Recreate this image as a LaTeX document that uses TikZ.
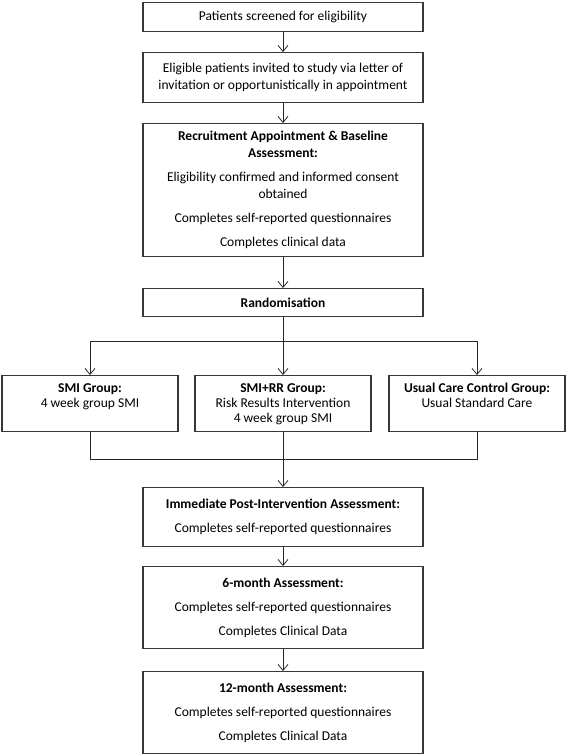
\documentclass[tikz,border=0pt]{standalone}
\usepackage{fontspec}
\setmainfont{Carlito}
\usetikzlibrary{arrows.meta}

\begin{document}
\begin{tikzpicture}[x=1pt,y=-1pt]
	\tikzstyle{comp} = [
		rectangle, draw=black!78, line width=1.1pt, align=center,
		font=\fontsize{13.5}{17}\selectfont
	]
	\tikzstyle{stage} = [
		comp, minimum width=280pt, anchor=north
	]
	\tikzstyle{group} = [
		comp, minimum width=176pt, minimum height=56pt, anchor=north
	]
	\tikzstyle{caption} = [
		below, align=center, inner sep=0pt, font=\fontsize{13.5}{15}\selectfont
	]
	\tikzstyle{conn} = [
		-{Straight Barb[length=6pt, width=10pt]}, line width=0.8pt, black!85
	]

	\useasboundingbox (0,0) rectangle (567,756);

	% Screening
	\node (Screen) [stage, minimum height=29pt] at (283,2) {Patients screened for eligibility};

	% Invitation
	\node (Invite) [stage, minimum height=50pt] at (283,52) {Eligible patients invited to study via letter of\\invitation or opportunistically in appointment};

	% Baseline
	\node (Baseline) [stage, minimum height=133pt] at (283,123) {\textbf{Recruitment Appointment \& Baseline}\\\textbf{Assessment:}\\[7pt]
		Eligibility confirmed and informed consent\\obtained\\[7pt]
		Completes self-reported questionnaires\\[7pt]
		Completes clinical data};

	% Randomisation
	\node (Random) [stage, minimum height=28pt] at (283,288) {\textbf{Randomisation}};
	\coordinate (Random_split) at (283,341);

	% Groups
	\node (SMI) [group] at (90,375) {}
		node [caption, yshift=-8pt] (SMI_text) at (SMI.north) {\textbf{SMI Group:}\\4 week group SMI}
	;
	\node (SMIRR) [group] at (283,375) {}
		node [caption, yshift=-8pt] (SMIRR_text) at (SMIRR.north) {\textbf{SMI+RR Group:}\\Risk Results Intervention\\4 week group SMI}
	;
	\node (Usual) [group] at (477,375) {}
		node [caption, yshift=-8pt] (Usual_text) at (Usual.north) {\textbf{Usual Care Control Group:}\\Usual Standard Care}
	;
	\coordinate (Groups_join) at (283,459);

	% Follow-up
	\node (Post) [stage, minimum height=59pt] at (283,487) {\textbf{Immediate Post-Intervention Assessment:}\\[7pt]
		Completes self-reported questionnaires};
	\node (Six) [stage, minimum height=82pt] at (283,566) {\textbf{6-month Assessment:}\\[7pt]
		Completes self-reported questionnaires\\[7pt]
		Completes Clinical Data};
	\node (Twelve) [stage, minimum height=82pt] at (283,671) {\textbf{12-month Assessment:}\\[7pt]
		Completes self-reported questionnaires\\[7pt]
		Completes Clinical Data};

	% Recruitment
	\draw[conn] (Screen) -- (Invite);
	\draw[conn] (Invite) -- (Baseline);
	\draw[conn] (Baseline) -- (Random);

	% Randomisation -> Groups
	\draw[conn] (Random) -- (SMIRR);
	\draw[conn] (Random_split) -| (SMI.north);
	\draw[conn] (Random_split) -| (Usual.north);

	% Groups -> Follow-up
	\draw[conn] (SMIRR) -- (Post);
	\draw[conn, -] (SMI.south) |- (Groups_join);
	\draw[conn, -] (Usual.south) |- (Groups_join);
	\draw[conn] (Post) -- (Six);
	\draw[conn] (Six) -- (Twelve);

\end{tikzpicture}
\end{document}
